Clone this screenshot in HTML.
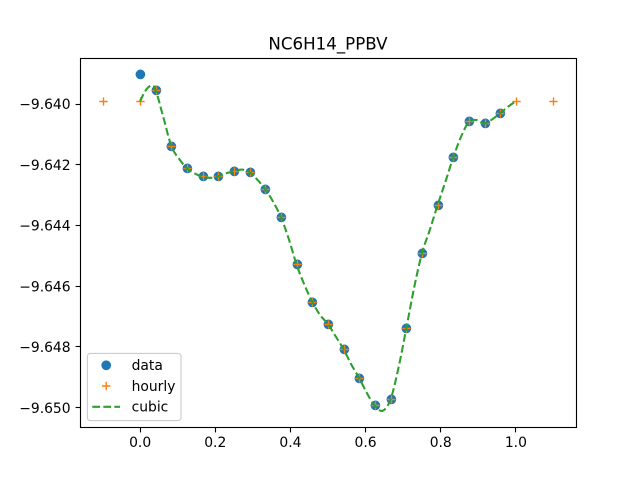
<!DOCTYPE html>
<html>
<head>
<meta charset="utf-8">
<title>NC6H14_PPBV</title>
<style>
html,body{margin:0;padding:0;background:#fff;}
svg{display:block;}
text{font-family:"DejaVu Sans","Liberation Sans",sans-serif;fill:#000;font-size:13.89px;}
</style>
</head>
<body>
<svg id="chart" xmlns="http://www.w3.org/2000/svg" width="640" height="480" viewBox="0 0 640 480">
  <rect x="0" y="0" width="640" height="480" fill="#fff"/>
  <text x="328" y="49.3" text-anchor="middle" style="font-size:16.67px">NC6H14_PPBV</text>
  <g id="x-axis"></g>
  <g id="y-axis"></g>
  <g id="data-series"></g>
  <g id="hourly-series"></g>
  <path id="cubic-line" fill="none" stroke="#2ca02c" stroke-width="2.08" stroke-dasharray="7.7 3.33"/>
  <rect x="80.5" y="58.5" width="496" height="369" fill="none" stroke="#000" stroke-width="1.11"/>
  <g>
    <rect x="87.4" y="353.4" width="93.6" height="67.2" rx="2.8" ry="2.8" fill="#fff" fill-opacity="0.8" stroke="#ccc" stroke-width="1.11"/>
    <circle cx="106.2" cy="365.3" r="4.17" fill="#1f77b4" stroke="#1f77b4" stroke-width="1.39"/>
    <text x="131.6" y="370.2">data</text>
    <path d="M102 386H110.4M106.2 381.8V390.2" fill="none" stroke="#ff7f0e" stroke-width="1.39"/>
    <text x="131.6" y="390.9">hourly</text>
    <line x1="92.3" y1="406.8" x2="120" y2="406.8" stroke="#2ca02c" stroke-width="2.08" stroke-dasharray="7.7 3.33"/>
    <text x="131.6" y="411.5">cubic</text>
  </g>
</svg>
<script>
const dataX = [0, 0.04167, 0.08333, 0.125, 0.16667, 0.20833, 0.25, 0.29167, 0.33333, 0.375, 0.41667, 0.45833, 0.5, 0.54167, 0.58333, 0.625, 0.66667, 0.70833, 0.75, 0.79167, 0.83333, 0.875, 0.91667, 0.95833];
const dataY = [-9.63903, -9.63955, -9.64139, -9.64212, -9.64240, -9.64238, -9.64222, -9.64225, -9.64281, -9.64373, -9.64530, -9.64652, -9.64725, -9.64808, -9.64903, -9.64994, -9.64972, -9.64739, -9.64492, -9.64333, -9.64176, -9.64059, -9.64064, -9.64030];
const hourlyX = [-0.1, 0, 0.04167, 0.08333, 0.125, 0.16667, 0.20833, 0.25, 0.29167, 0.33333, 0.375, 0.41667, 0.45833, 0.5, 0.54167, 0.58333, 0.625, 0.66667, 0.70833, 0.75, 0.79167, 0.83333, 0.875, 0.91667, 0.95833, 1, 1.1];
const hourlyY = [-9.63991, -9.63991, -9.63955, -9.64139, -9.64212, -9.64240, -9.64238, -9.64222, -9.64225, -9.64281, -9.64373, -9.64530, -9.64652, -9.64725, -9.64808, -9.64903, -9.64994, -9.64972, -9.64739, -9.64492, -9.64333, -9.64176, -9.64059, -9.64064, -9.64030, -9.63991, -9.63991];
const cubicX = [0, 0.0104, 0.0208, 0.03125, 0.04167, 0.0625, 0.08333, 0.104, 0.125, 0.146, 0.16667, 0.1875, 0.20833, 0.229, 0.25, 0.2708, 0.29167, 0.3125, 0.33333, 0.354, 0.375, 0.396, 0.41667, 0.4375, 0.45833, 0.479, 0.5, 0.5208, 0.54167, 0.5625, 0.58333, 0.604, 0.625, 0.6458, 0.66667, 0.6875, 0.70833, 0.729, 0.75, 0.7708, 0.79167, 0.8125, 0.83333, 0.854, 0.875, 0.896, 0.91667, 0.9375, 0.95833, 0.979, 1];
const cubicY = [-9.63991, -9.63964, -9.63946, -9.63939, -9.63955, -9.64047, -9.64139, -9.64181, -9.64212, -9.64229, -9.64240, -9.64243, -9.64238, -9.64228, -9.64222, -9.64216, -9.64225, -9.64250, -9.64281, -9.64322, -9.64373, -9.64446, -9.64530, -9.64596, -9.64652, -9.64695, -9.64725, -9.64766, -9.64808, -9.64859, -9.64903, -9.64953, -9.64994, -9.65010, -9.64972, -9.64869, -9.64739, -9.64606, -9.64492, -9.64415, -9.64333, -9.64256, -9.64176, -9.64108, -9.64059, -9.64053, -9.64064, -9.64050, -9.64030, -9.64009, -9.63991];
const xTicks = [0, 0.2, 0.4, 0.6, 0.8, 1];
const xTickLabels = ["0.0", "0.2", "0.4", "0.6", "0.8", "1.0"];
const yTicks = [-9.64, -9.642, -9.644, -9.646, -9.648, -9.65];
const yTickLabels = ["−9.640", "−9.642", "−9.644", "−9.646", "−9.648", "−9.650"];

const NS = "http://www.w3.org/2000/svg";
function xScale(v) { return 80 + (v + 0.16) / 1.32 * 496; }
function yScale(v) { return 104 + (-9.64 - v) * 30370; }
function make(tag, attrs, parent) {
  const el = document.createElementNS(NS, tag);
  for (const k in attrs) el.setAttribute(k, attrs[k]);
  parent.appendChild(el);
  return el;
}

const xAxis = document.getElementById("x-axis");
xTicks.forEach(function (t, i) {
  const p = Math.floor(xScale(t)) + 0.5;
  const tick = make("line", { x1: p, x2: p, y1: 427.5, y2: 432.4, stroke: "#000", "stroke-width": 1.11 }, xAxis);
  
  
  const label = make("text", { x: xScale(t), y: 447, "text-anchor": "middle" }, xAxis);
  
  
  label.textContent = xTickLabels[i];
});

const yAxis = document.getElementById("y-axis");
yTicks.forEach(function (t, i) {
  const p = Math.floor(yScale(t)) + 0.5;
  const tick = make("line", { x1: 75.6, x2: 80.5, y1: p, y2: p, stroke: "#000", "stroke-width": 1.11 }, yAxis);
  
  
  const label = make("text", { x: 70.6, y: yScale(t) + 5.2, "text-anchor": "end" }, yAxis);
  
  
  label.textContent = yTickLabels[i];
});

const dataGroup = document.getElementById("data-series");
dataX.forEach(function (x, i) {
  const c = make("circle", { cx: Math.round(xScale(x)) + 0.4, cy: Math.floor(yScale(dataY[i])) + 0.4, r: 4.17, fill: "#1f77b4", stroke: "#1f77b4", "stroke-width": 1.39 }, dataGroup);
  
  
});

const hourlyGroup = document.getElementById("hourly-series");
hourlyX.forEach(function (x, i) {
  const px = Math.round(xScale(x)) + 0.5;
  const py = Math.floor(yScale(hourlyY[i])) + 0.5;
  const m = make("path", { d: "M" + (px - 4.17) + " " + py + "H" + (px + 4.17) + "M" + px + " " + (py - 4.17) + "V" + (py + 4.17), fill: "none", stroke: "#ff7f0e", "stroke-width": 1.39 }, hourlyGroup);
  
  
});

const pts = cubicX.map(function (x, i) { return [xScale(x), yScale(cubicY[i])]; });
let d = "M" + pts[0][0] + " " + pts[0][1];
for (let i = 0; i < pts.length - 1; i++) {
  const p0 = pts[Math.max(i - 1, 0)], p1 = pts[i], p2 = pts[i + 1], p3 = pts[Math.min(i + 2, pts.length - 1)];
  d += "C" + (p1[0] + (p2[0] - p0[0]) / 6) + " " + (p1[1] + (p2[1] - p0[1]) / 6) + " " +
       (p2[0] - (p3[0] - p1[0]) / 6) + " " + (p2[1] - (p3[1] - p1[1]) / 6) + " " + p2[0] + " " + p2[1];
}
document.getElementById("cubic-line").setAttribute("d", d);
</script>
</body>
</html>
